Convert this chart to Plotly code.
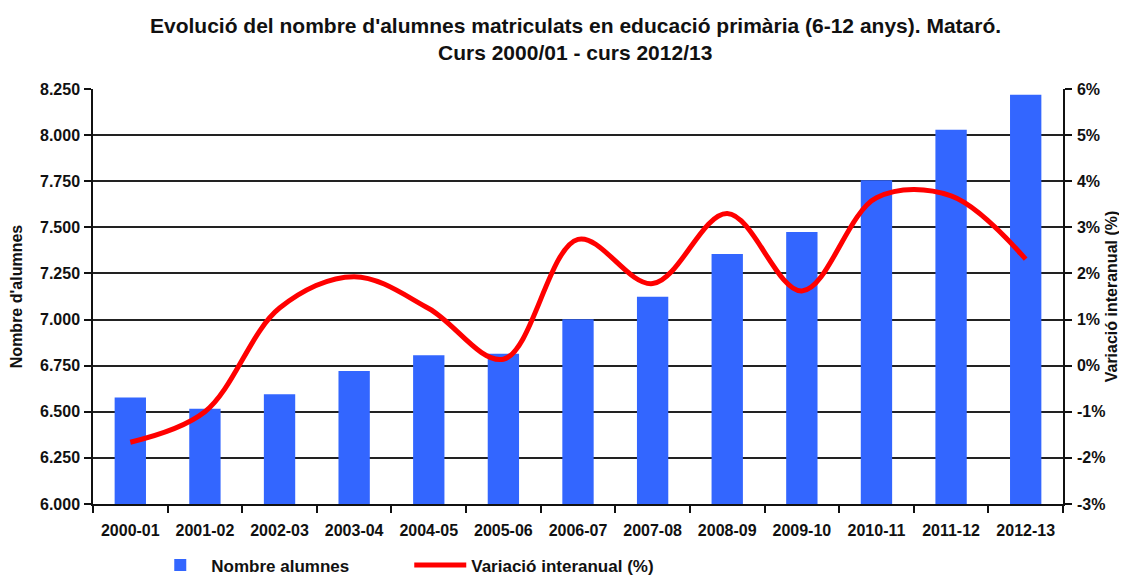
import plotly.graph_objects as go

categories = ["2000-01", "2001-02", "2002-03", "2003-04", "2004-05", "2005-06", "2006-07",
              "2007-08", "2008-09", "2009-10", "2010-11", "2011-12", "2012-13"]
alumnes = [6578, 6516, 6595, 6721, 6806, 6815, 7001, 7124, 7355, 7475, 7755, 8029, 8219]
variacio = [-1.66, -1.0, 1.25, 1.93, 1.24, 0.14, 2.74, 1.78, 3.3, 1.62, 3.64, 3.68, 2.31]

left_ticks = [6000, 6250, 6500, 6750, 7000, 7250, 7500, 7750, 8000, 8250]
right_ticks = [-3, -2, -1, 0, 1, 2, 3, 4, 5, 6]
right_labels = ["-3%", "-2%", "-1%", "0%", "1%", "2%", "3%", "4%", "5%", "6%"]

title_line1 = "Evolució del nombre d'alumnes matriculats en educació primària (6-12 anys). Mataró."
title_line2 = "Curs 2000/01 - curs 2012/13"

FONT = "Liberation Sans, Arial, sans-serif"
INK = "#111111"

fig = go.Figure()
fig.add_trace(go.Bar(x=categories, y=alumnes, name="Nombre alumnes",
                     marker=dict(color="#3366FF", line=dict(width=0)), yaxis="y"))
fig.add_trace(go.Scatter(x=categories, y=variacio, name="Variació interanual (%)",
                         mode="lines", line=dict(color="#FF0000", width=5, shape="spline", smoothing=1.0),
                         yaxis="y2"))

fig.update_layout(
    width=1119, height=569,
    margin=dict(l=85, r=64, t=81, b=73, autoexpand=False),
    paper_bgcolor="white", plot_bgcolor="white",
    separators=",.",
    font=dict(family=FONT, size=16, color=INK, weight="bold"),
    bargap=0.58,
    showlegend=True,
    legend=dict(orientation="h", x=0.058, xanchor="left", y=-0.148, yanchor="middle",
                font=dict(family=FONT, size=17, color=INK, weight="bold"),
                itemwidth=52, entrywidth=193, entrywidthmode="pixels",
                bgcolor="rgba(0,0,0,0)"),
    xaxis=dict(type="category", showline=True, linecolor=INK, linewidth=1.5,
               ticks="outside", tickson="boundaries", ticklen=7, tickcolor=INK, tickwidth=1.5,
               ticklabelstandoff=11,
               showgrid=False, tickfont=dict(family=FONT, size=16, color=INK, weight="bold")),
    yaxis=dict(range=[6000, 8250], tickvals=left_ticks, tickformat=",d",
               showline=True, linecolor=INK, linewidth=1.5,
               ticks="outside", ticklen=7, tickcolor=INK, tickwidth=1.5,
               ticklabelstandoff=1,
               showgrid=True, gridcolor="#222222", gridwidth=1.5, zeroline=False,
               tickfont=dict(family=FONT, size=16, color=INK, weight="bold"),
               title=dict(text="Nombre d'alumnes", font=dict(family=FONT, size=16, color=INK, weight="bold"),
                          standoff=13)),
    yaxis2=dict(range=[-3, 6], tickvals=right_ticks, ticktext=right_labels, overlaying="y", side="right",
                showline=True, linecolor=INK, linewidth=1.5,
                ticks="outside", ticklen=7, tickcolor=INK, tickwidth=1.5,
                ticklabelstandoff=2,
                showgrid=False, zeroline=False,
                tickfont=dict(family=FONT, size=16, color=INK, weight="bold"),
                title=dict(text="Variació interanual (%)", font=dict(family=FONT, size=16, color=INK, weight="bold"),
                           standoff=1)),
    annotations=[
        dict(text=title_line1, xref="paper", yref="paper", x=0.497, y=1.152, xanchor="center", yanchor="middle",
             showarrow=False, font=dict(family=FONT, size=21, color=INK, weight="bold")),
        dict(text=title_line2, xref="paper", yref="paper", x=0.497, y=1.087, xanchor="center", yanchor="middle",
             showarrow=False, font=dict(family=FONT, size=21, color=INK, weight="bold")),
    ],
)

fig.write_html("out.html")
